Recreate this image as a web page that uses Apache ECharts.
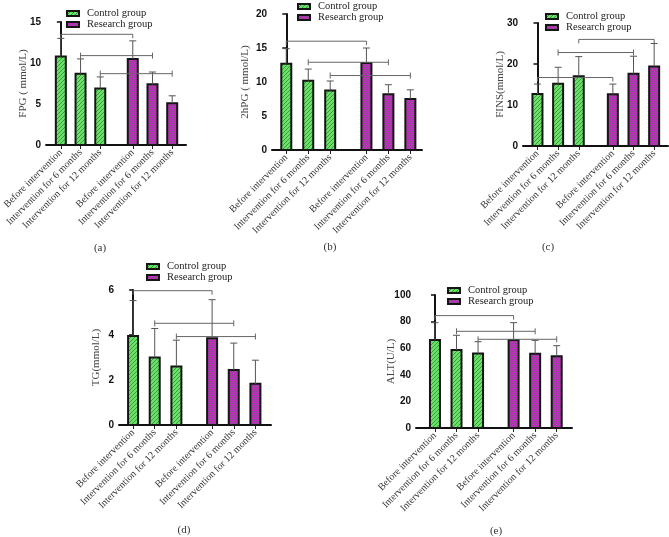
<!DOCTYPE html>
<html>
<head>
<meta charset="utf-8">
<script src="https://cdn.jsdelivr.net/npm/echarts@6/dist/echarts.min.js"></script>
<style>
  html, body { margin: 0; padding: 0; background: #fff; }
  #main { width: 669px; height: 537px; }
</style>
</head>
<body>
<div id="main"></div>
<script>
// category + group names
const timeLabels = ['Before intervention', 'Intervention for 6 months', 'Intervention for 12 months'];
const groupNames = ['Control group', 'Research group'];

// (a) FPG
const fpgControl = [10.8, 8.7, 6.9];
const fpgControlSd = [2.2, 1.8, 1.4];
const fpgResearch = [10.5, 7.4, 5.1];
const fpgResearchSd = [2.2, 1.5, 0.9];
const fpgBrackets = [[0, 3, 13.5], [1, 4, 10.9], [2, 5, 8.7]];

// (b) 2hPG
const hpgControl = [12.7, 10.2, 8.75];
const hpgControlSd = [2.2, 1.7, 1.4];
const hpgResearch = [12.8, 8.2, 7.5];
const hpgResearchSd = [2.2, 1.4, 1.35];
const hpgBrackets = [[0, 3, 16.0], [1, 4, 12.9], [2, 5, 10.95]];

// (c) FINS
const finsControl = [12.7, 15.2, 17.0];
const finsControlSd = [2.4, 4.0, 4.8];
const finsResearch = [12.6, 17.6, 19.4];
const finsResearchSd = [2.5, 4.3, 5.6];
const finsBrackets = [[0, 3, 16.7], [1, 4, 22.8], [2, 5, 26.0]];

// (d) TG
const tgControl = [3.96, 3.0, 2.6];
const tgControlSd = [1.57, 1.29, 1.17];
const tgResearch = [3.86, 2.45, 1.83];
const tgResearchSd = [1.71, 1.19, 1.05];
const tgBrackets = [[0, 3, 5.97], [1, 4, 4.52], [2, 5, 3.93]];

// (e) ALT
const altControl = [66.2, 58.6, 56.1];
const altControlSd = [13.0, 11.1, 8.8];
const altResearch = [66.2, 55.9, 53.9];
const altResearchSd = [13.0, 10.0, 8.0];
const altBrackets = [[0, 3, 84.5], [1, 4, 72.7], [2, 5, 66.7]];

// layout: where the 6 bars sit on the hidden value x axis (gap between groups)
const xPos = [0, 1, 2, 3.65, 4.65, 5.65];

const panels = [
  {name: 'FPG ( mmol/L)', max: 15, interval: 5, c: fpgControl, cs: fpgControlSd, r: fpgResearch, rs: fpgResearchSd, br: fpgBrackets,
   grid: {left: 43, top: 22, width: 143, height: 123}, xmin: -0.75, xmax: 6.35, nameGap: 17, legend: {left: 66, top: 8}, tag: '(a)', tagPos: [100, 248]},
  {name: '2hPG ( mmol/L)', max: 20, interval: 5, c: hpgControl, cs: hpgControlSd, r: hpgResearch, rs: hpgResearchSd, br: hpgBrackets,
   grid: {left: 272, top: 14, width: 150, height: 136}, xmin: -0.65, xmax: 6.18, nameGap: 21, legend: {left: 297, top: 1}, tag: '(b)', tagPos: [330, 247]},
  {name: 'FINS(mmol/L)', max: 30, interval: 10, c: finsControl, cs: finsControlSd, r: finsResearch, rs: finsResearchSd, br: finsBrackets,
   grid: {left: 523, top: 23, width: 145, height: 123}, xmin: -0.7, xmax: 6.32, nameGap: 17, legend: {left: 545, top: 11}, tag: '(c)', tagPos: [548, 247]},
  {name: 'TG(mmol/L)', max: 6, interval: 2, c: tgControl, cs: tgControlSd, r: tgResearch, rs: tgResearchSd, br: tgBrackets,
   grid: {left: 119, top: 290, width: 152, height: 135}, xmin: -0.65, xmax: 6.37, nameGap: 17, legend: {left: 146, top: 261}, tag: '(d)', tagPos: [184, 530]},
  {name: 'ALT(U/L)', max: 100, interval: 20, c: altControl, cs: altControlSd, r: altResearch, rs: altResearchSd, br: altBrackets,
   grid: {left: 416, top: 295, width: 156, height: 133}, xmin: -0.88, xmax: 6.36, nameGap: 19, legend: {left: 447, top: 285}, tag: '(e)', tagPos: [496, 531]}
];

function makePattern(base, stripe) {
  const c = document.createElement('canvas');
  c.width = 4; c.height = 4;
  const g = c.getContext('2d');
  g.fillStyle = base;
  g.fillRect(0, 0, 4, 4);
  g.fillStyle = stripe;
  for (let i = 0; i < 4; i++) g.fillRect(i, 3 - i, 1, 1);
  return {image: c, repeat: 'repeat'};
}
const greenFill = makePattern('#66e466', '#449444');
const purpleFill = makePattern('#c02cc0', '#6e606e');

const serif = 'Liberation Serif';
const sans = 'Liberation Sans';

// bars drawn as rects through the axis scales
function renderBar(params, api) {
  const x = api.value(0);
  const top = api.coord([x, api.value(1)]);
  const base = api.coord([x, 0]);
  return {
    type: 'rect',
    shape: {x: top[0] - 5, y: top[1], width: 10, height: base[1] - top[1]},
    style: api.style()
  };
}

function renderErr(params, api) {
  const x = api.value(0);
  const p1 = api.coord([x, api.value(1)]);
  const p2 = api.coord([x, api.value(2)]);
  const st = {stroke: '#555', lineWidth: 1};
  return {type: 'group', children: [
    {type: 'line', shape: {x1: p1[0], y1: p1[1], x2: p2[0], y2: p2[1]}, style: st},
    {type: 'line', shape: {x1: p2[0] - 3.5, y1: p2[1], x2: p2[0] + 3.5, y2: p2[1]}, style: st}
  ]};
}

function renderBracket(params, api) {
  const a = api.coord([api.value(0), api.value(2)]);
  const b = api.coord([api.value(1), api.value(2)]);
  const down = api.value(3);
  const t1 = down ? 0 : -3, t2 = down ? 4 : 3;
  const st = {stroke: '#666', lineWidth: 1};
  return {type: 'group', children: [
    {type: 'line', shape: {x1: a[0], y1: a[1], x2: b[0], y2: b[1]}, style: st},
    {type: 'line', shape: {x1: a[0], y1: a[1] + t1, x2: a[0], y2: a[1] + t2}, style: st},
    {type: 'line', shape: {x1: b[0], y1: b[1] + t1, x2: b[0], y2: b[1] + t2}, style: st}
  ]};
}

const grid = [], xAxis = [], yAxis = [], series = [], legend = [], graphic = [];

panels.forEach(function (p, i) {
  grid.push(p.grid);
  xAxis.push({
    type: 'value', gridIndex: i, min: p.xmin, max: p.xmax,
    splitLine: {show: false},
    axisLine: {show: true, onZero: false, lineStyle: {color: '#111', width: 2}},
    axisTick: {show: true, customValues: xPos, length: 4, lineStyle: {color: '#222', width: 1}},
    axisLabel: {
      customValues: xPos, rotate: 45, margin: 6,
      fontFamily: serif, fontSize: 10, color: '#333',
      formatter: function (v) { return timeLabels[xPos.indexOf(v) % 3]; }
    }
  });
  yAxis.push({
    type: 'value', gridIndex: i, min: 0, max: p.max, interval: p.interval,
    name: p.name, nameLocation: 'middle', nameGap: p.nameGap, nameMoveOverlap: false,
    nameTextStyle: {fontFamily: serif, fontSize: 11, color: '#444'},
    splitLine: {show: false},
    axisLine: {show: true, lineStyle: {color: '#111', width: 2}},
    axisTick: {show: true, length: 4, lineStyle: {color: '#111', width: 1.5}},
    axisLabel: {fontFamily: sans, fontWeight: 'bold', fontSize: 10, color: '#111', margin: 5}
  });

  const ctrl = p.c.map((v, k) => [xPos[k], v]);
  const res = p.r.map((v, k) => [xPos[k + 3], v]);
  series.push({
    name: groupNames[0], type: 'custom', xAxisIndex: i, yAxisIndex: i,
    renderItem: renderBar, encode: {x: 0, y: 1}, data: ctrl,
    itemStyle: {color: greenFill, borderColor: '#151515', borderWidth: 2}
  });
  series.push({
    name: groupNames[1], type: 'custom', xAxisIndex: i, yAxisIndex: i,
    renderItem: renderBar, encode: {x: 0, y: 1}, data: res,
    itemStyle: {color: purpleFill, borderColor: '#151515', borderWidth: 2}
  });

  const errs = p.c.map((v, k) => [xPos[k], v, v + p.cs[k]])
    .concat(p.r.map((v, k) => [xPos[k + 3], v, v + p.rs[k]]));
  series.push({
    type: 'custom', xAxisIndex: i, yAxisIndex: i, z: 3,
    renderItem: renderErr, encode: {x: 0, y: [1, 2]}, data: errs, silent: true
  });

  const top = Math.max.apply(null, p.br.map(b => b[2]));
  const brs = p.br.map(b => [xPos[b[0]], xPos[b[1]], b[2], (b[0] === 0 || b[2] === top) ? 1 : 0]);
  series.push({
    type: 'custom', xAxisIndex: i, yAxisIndex: i, z: 3,
    renderItem: renderBracket, encode: {x: [0, 1], y: 2}, data: brs, silent: true
  });

  legend.push({
    data: groupNames, orient: 'vertical', left: p.legend.left, top: p.legend.top,
    padding: 0, icon: 'rect', itemWidth: 12, itemHeight: 5, itemGap: 0,
    textStyle: {fontFamily: serif, fontSize: 10.5, color: '#222', padding: [0, 0, 0, 3]}
  });

  graphic.push({
    type: 'text', x: p.tagPos[0], y: p.tagPos[1],
    style: {text: p.tag, fontFamily: serif, fontSize: 11, fill: '#333', align: 'center', verticalAlign: 'middle'}
  });
});

const myChart = echarts.init(document.getElementById('main'));
myChart.setOption({
  backgroundColor: '#fff',
  animation: false,
  grid: grid,
  xAxis: xAxis,
  yAxis: yAxis,
  legend: legend,
  graphic: graphic,
  series: series
});
</script>
</body>
</html>
